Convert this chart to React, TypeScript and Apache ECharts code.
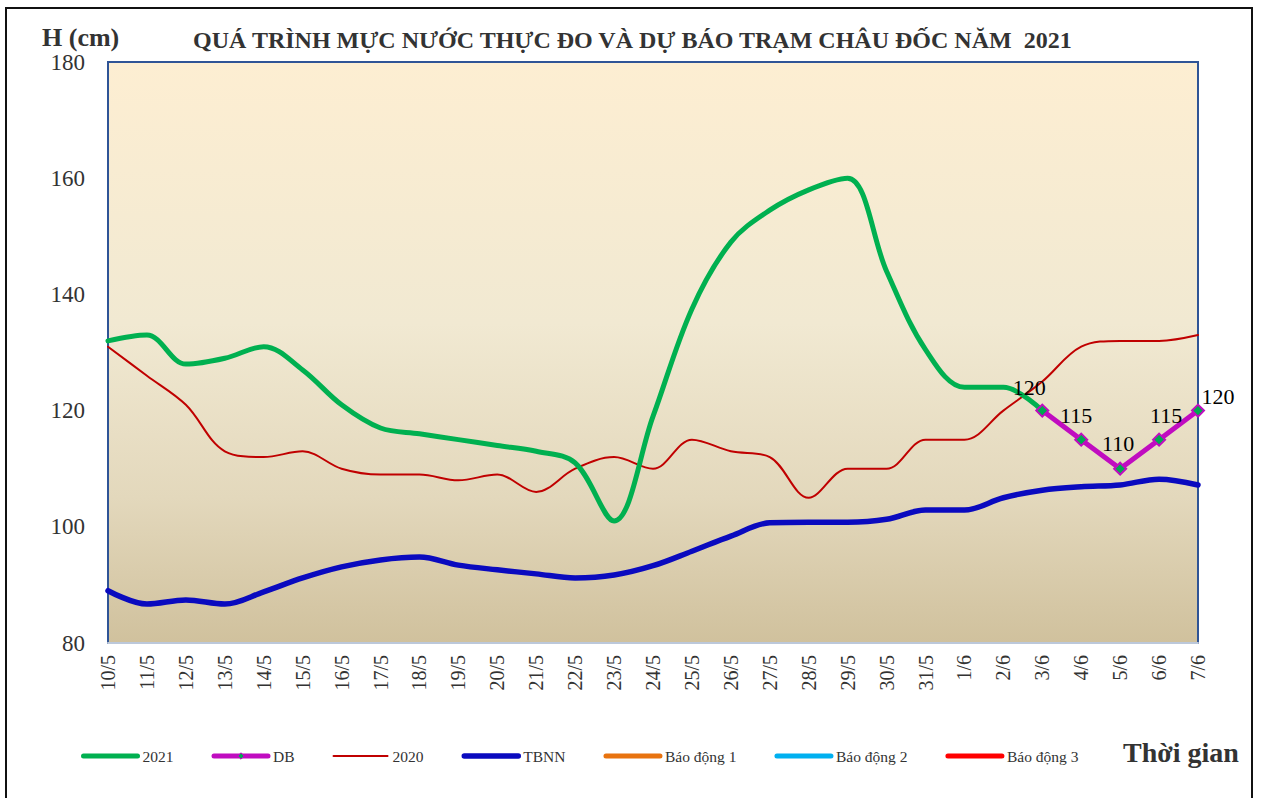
import React, { useEffect, useRef } from "react";
import * as echarts from "echarts";

const categories = [
  "10/5", "11/5", "12/5", "13/5", "14/5", "15/5", "16/5", "17/5", "18/5", "19/5",
  "20/5", "21/5", "22/5", "23/5", "24/5", "25/5", "26/5", "27/5", "28/5", "29/5",
  "30/5", "31/5", "1/6", "2/6", "3/6", "4/6", "5/6", "6/6", "7/6",
];

const values2021 = [
  132, 133, 128, 129, 131, 127, 121, 117, 116, 115,
  114, 113, 111, 101, 119, 137.5, 149, 154.5, 158, 160,
  144, 130.5, 124, 124, 120, null, null, null, null,
];

const valuesDB = [
  null, null, null, null, null, null, null, null, null, null,
  null, null, null, null, null, null, null, null, null, null,
  null, null, null, null, 120, 115, 110, 115, 120,
];

const values2020 = [
  131, 126, 121, 113, 112, 113, 110, 109, 109, 108,
  109, 106, 110, 112, 110, 115, 113, 112, 105, 110,
  110, 115, 115, 120, 125, 131, 132, 132, 133,
];

const valuesTBNN = [
  89, 86.7, 87.4, 86.7, 88.8, 91.2, 93.1, 94.3, 94.8, 93.4,
  92.6, 91.9, 91.2, 91.7, 93.3, 95.8, 98.4, 100.7, 100.8, 100.8,
  101.3, 102.9, 102.9, 105, 106.3, 106.9, 107.2, 108.2, 107.2,
];

const seriesNames = ["2021", "DB", "2020", "TBNN", "Báo động 1", "Báo động 2", "Báo động 3"];
const seriesColors = ["#00B050", "#C00CC0", "#C00000", "#0A0ABF", "#E8730F", "#00B0F0", "#FF0000"];
const seriesWidths = [5, 5, 2, 5.5, 5, 5, 5];
const yTicks = [80, 100, 120, 140, 160, 180];

const TITLE = "QUÁ TRÌNH MỰC NƯỚC THỰC ĐO VÀ DỰ BÁO TRẠM CHÂU ĐỐC NĂM  2021";
const FONT = '"Times New Roman", "Liberation Serif", serif';

// label offsets for the forecast labels (layout, not data)
const dbLabelOffsets: Record<number, [number, number]> = {
  24: [-13, 0],
  25: [-5, -1],
  26: [-2, -2],
  27: [7, -1],
  28: [20, 9],
};

export default function App() {
  const ref = useRef<HTMLDivElement>(null);

  useEffect(() => {
    if (!ref.current) return;
    const chart = echarts.init(ref.current, undefined, { renderer: "svg" });

    const dbData = valuesDB.map((v, i) =>
      v == null
        ? null
        : {
            value: v,
            label: { offset: dbLabelOffsets[i] || [0, 0] },
          }
    );

    const legendData = seriesNames.map((name, i) =>
      name === "DB"
        ? {
            name,
            lineStyle: { width: seriesWidths[i], color: seriesColors[i], cap: "round" },
            itemStyle: { color: "#00A94F", borderColor: "#C00CC0", borderWidth: 1 },
          }
        : {
            name,
            lineStyle: { width: seriesWidths[i], color: seriesColors[i], cap: "round" },
            itemStyle: { opacity: 0, color: "rgba(0,0,0,0)", borderWidth: 0 },
          }
    );

    const mkLine = (i: number, data: any[], extra: any = {}) => ({
      name: seriesNames[i],
      type: "line",
      data,
      symbol: "none",
      lineStyle: { color: seriesColors[i], width: seriesWidths[i], cap: "round", join: "round" },
      itemStyle: { color: seriesColors[i] },
      ...extra,
    });

    const option: any = {
      animation: false,
      backgroundColor: "#ffffff",
      title: [
        {
          text: TITLE,
          left: 193,
          top: 28,
          padding: 0,
          textStyle: { fontSize: 24, fontWeight: "bold", fontFamily: FONT, color: "#333333" },
        },
        {
          text: "H (cm)",
          left: 42,
          top: 24,
          padding: 0,
          textStyle: { fontSize: 26, lineHeight: 26, fontWeight: "bold", fontFamily: FONT, color: "#333333" },
        },
      ],
      grid: {
        left: 108,
        top: 62,
        right: 63,
        bottom: 155,
        show: true,
        borderColor: "#2F5496",
        borderWidth: 2,
        backgroundColor: {
          type: "linear",
          x: 0,
          y: 0,
          x2: 0,
          y2: 1,
          colorStops: [
            { offset: 0, color: "#FDEED2" },
            { offset: 0.45, color: "#F1E9D2" },
            { offset: 0.75, color: "#E3D8BC" },
            { offset: 1, color: "#D0C19D" },
          ],
        },
      },
      legend: {
        left: 76,
        top: 743,
        itemWidth: 54,
        itemHeight: 8,
        itemGap: 38,
        data: legendData,
        textStyle: { fontSize: 15.5, fontFamily: FONT, color: "#333333" },
      },
      xAxis: {
        type: "category",
        data: categories,
        boundaryGap: false,
        axisLine: { show: true, lineStyle: { color: "#BCC8DA", width: 2 } },
        axisTick: { show: false },
        splitLine: { show: false },
        axisLabel: {
          rotate: 90,
          margin: 12,
          interval: 0,
          fontSize: 20,
          fontFamily: FONT,
          color: "#333333",
        },
      },
      yAxis: {
        type: "value",
        min: yTicks[0],
        max: yTicks[yTicks.length - 1],
        interval: 20,
        axisLine: { show: true, lineStyle: { color: "#2F5496", width: 2 } },
        axisTick: { show: false },
        splitLine: { show: false },
        axisLabel: {
          margin: 23,
          fontSize: 23,
          lineHeight: 22,
          fontFamily: FONT,
          color: "#333333",
        },
      },
      series: [
        mkLine(0, values2021, { smooth: 0.35, z: 3 }),
        {
          name: "DB",
          type: "line",
          data: dbData,
          symbol: "diamond",
          symbolSize: 12,
          z: 5,
          lineStyle: { color: seriesColors[1], width: seriesWidths[1], cap: "round", join: "round" },
          itemStyle: { color: "#00A94F", borderColor: seriesColors[1], borderWidth: 2 },
          label: {
            show: true,
            position: "top",
            fontSize: 22,
            fontFamily: FONT,
            color: "#000000",
          },
        },
        mkLine(2, values2020, { smooth: 0.35, z: 2 }),
        mkLine(3, valuesTBNN, { smooth: 0.35, z: 2 }),
        mkLine(4, []),
        mkLine(5, []),
        mkLine(6, []),
      ],
      graphic: [
        {
          type: "rect",
          silent: true,
          z: 100,
          shape: { x: 6, y: 8, width: 1246, height: 800 },
          style: { fill: "none", stroke: "#111111", lineWidth: 2 },
        },
        {
          type: "text",
          x: 1123,
          y: 752,
          style: {
            text: "Thời gian",
            fontSize: 28,
            fontWeight: "bold",
            fontFamily: FONT,
            fill: "#333333",
            textAlign: "left",
            textVerticalAlign: "middle",
            align: "left",
            verticalAlign: "middle",
          },
        },
      ],
    };

    chart.setOption(option);
    return () => chart.dispose();
  }, []);

  return (
    <div
      ref={ref}
      style={{ position: "fixed", left: 0, top: 0, width: 1261, height: 798, background: "#fff" }}
    />
  );
}
